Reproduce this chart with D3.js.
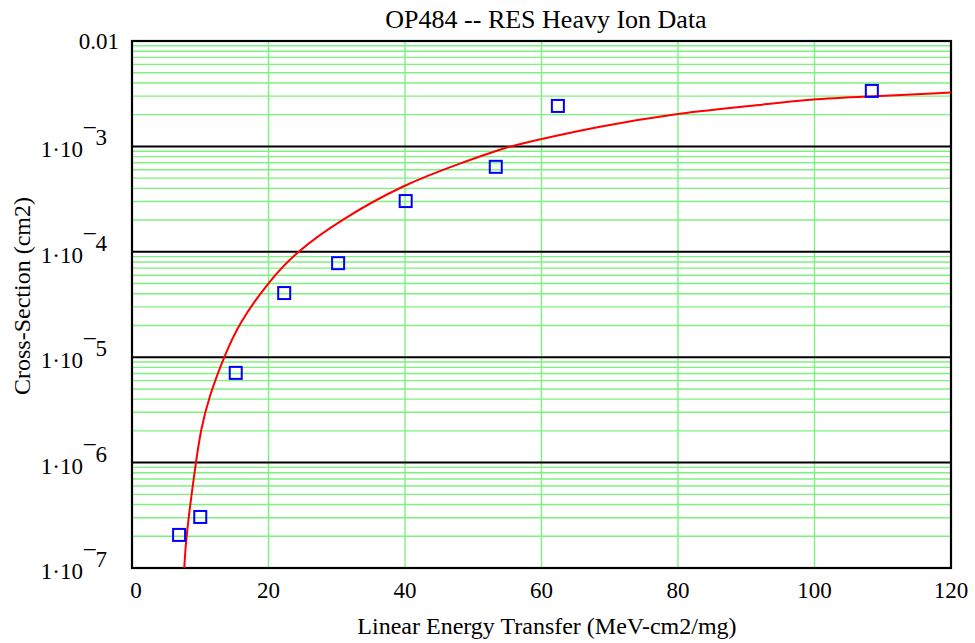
<!DOCTYPE html>
<html lang="en">
<head>
<meta charset="utf-8">
<title>OP484 -- RES Heavy Ion Data</title>
<script src="https://d3js.org/d3.v7.min.js"></script>
<style>
  body { margin: 0; background: #fff; }
  text { font-family: "Liberation Serif", "Times New Roman", serif; fill: #000; }
</style>
</head>
<body>
<script>
// measured cross-section data (LET, cm2)
var letData = [6.9, 10.0, 15.2, 22.3, 30.2, 40.1, 53.3, 62.4, 108.4];
var sigmaData = [2.06e-7, 3.05e-7, 7.1e-6, 4.06e-5, 7.8e-5, 3.03e-4, 6.4e-4, 2.42e-3, 3.36e-3];

// fitted curve, points
var fitLet = [7.66, 7.91, 9.33, 10.07, 11.28, 13.48, 15.68, 19.82, 23.88, 30.48, 39.85, 48.06, 54.9, 59.3, 68.1, 79.8, 89.6, 99.8, 108.1, 120];
var fitSigma = [1e-7, 1.98e-7, 9.8e-7, 2.04e-6, 4.2e-6, 1.01e-5, 2.1e-5, 5.0e-5, 9.8e-5, 2.0e-4, 4.37e-4, 6.9e-4, 9.9e-4, 1.15e-3, 1.54e-3, 2.06e-3, 2.38e-3, 2.82e-3, 2.97e-3, 3.24e-3];

var xTicks = [0, 20, 40, 60, 80, 100, 120];
var decades = [1e-7, 1e-6, 1e-5, 1e-4, 1e-3, 1e-2];
var decadeExp = [-7, -6, -5, -4, -3, -2];

var width = 975, height = 643;
var margin = {left: 132, right: 24, top: 41, bottom: 75};

var svg = d3.select("body").append("svg")
    .attr("width", width)
    .attr("height", height);

var x = d3.scaleLinear()
    .domain([0, 120])
    .range([margin.left, width - margin.right]);

var y = d3.scaleLog()
    .domain([1e-7, 1e-2])
    .range([height - margin.bottom, margin.top]);

// minor log grid
var minor = [];
decades.slice(0, -1).forEach(function(d) {
  for (var k = 2; k <= 9; k++) minor.push(d * k);
});

svg.append("g").selectAll("line")
    .data(minor)
  .enter().append("line")
    .attr("x1", x(0)).attr("x2", x(120))
    .attr("y1", function(d) { return y(d); })
    .attr("y2", function(d) { return y(d); })
    .attr("stroke", "#7ef27e")
    .attr("stroke-width", 1.4);

svg.append("g").selectAll("line")
    .data(xTicks.slice(1))
  .enter().append("line")
    .attr("x1", function(d) { return x(d); })
    .attr("x2", function(d) { return x(d); })
    .attr("y1", y(1e-2)).attr("y2", y(1e-7))
    .attr("stroke", "#7ef27e")
    .attr("stroke-width", 1.4);

svg.append("g").selectAll("line")
    .data(decades)
  .enter().append("line")
    .attr("x1", x(0)).attr("x2", x(120))
    .attr("y1", function(d) { return y(d); })
    .attr("y2", function(d) { return y(d); })
    .attr("stroke", "#000")
    .attr("stroke-width", 2);

// frame
svg.append("rect")
    .attr("x", x(0)).attr("y", y(1e-2))
    .attr("width", x(120) - x(0))
    .attr("height", y(1e-7) - y(1e-2))
    .attr("fill", "none")
    .attr("stroke", "#000")
    .attr("stroke-width", 2.2);

// fitted curve (smoothed through the read points)
var line = d3.line()
    .x(function(d, i) { return x(fitLet[i]); })
    .y(function(d) { return y(d); })
    .curve(d3.curveBasis);

svg.append("path")
    .datum(fitSigma)
    .attr("d", line)
    .attr("fill", "none")
    .attr("stroke", "#ff0000")
    .attr("stroke-width", 2);

// data points
var sq = 12;
svg.append("g").selectAll("rect")
    .data(sigmaData)
  .enter().append("rect")
    .attr("x", function(d, i) { return x(letData[i]) - sq / 2; })
    .attr("y", function(d) { return y(d) - sq / 2; })
    .attr("width", sq).attr("height", sq)
    .attr("fill", "none")
    .attr("stroke", "#0000ff")
    .attr("stroke-width", 2);

// x tick labels
svg.append("g").selectAll("text")
    .data(xTicks)
  .enter().append("text")
    .attr("x", function(d) { return x(d) + (d === 0 ? 4 : 0); })
    .attr("y", 598)
    .attr("text-anchor", "middle")
    .attr("font-size", 23)
    .text(function(d) { return d; });

// y tick labels
var yl = svg.append("g");
decades.forEach(function(d, i) {
  if (decadeExp[i] === -2) {
    yl.append("text")
      .attr("x", 119).attr("y", y(d) + 8)
      .attr("text-anchor", "end")
      .attr("font-size", 23)
      .text("0.01");
    return;
  }
  yl.append("text")
    .attr("x", 83).attr("y", y(d) + 11)
    .attr("text-anchor", "end")
    .attr("font-size", 23)
    .text("1\u00b710");
  yl.append("text")
    .attr("x", 84).attr("y", y(d) - 1)
    .attr("font-size", 23)
    .text("\u00af" + Math.abs(decadeExp[i]));
});

// titles
svg.append("text")
    .attr("x", 546).attr("y", 28)
    .attr("text-anchor", "middle")
    .attr("font-size", 26)
    .text("OP484 -- RES Heavy Ion Data");

svg.append("text")
    .attr("x", 547).attr("y", 634)
    .attr("text-anchor", "middle")
    .attr("font-size", 24)
    .text("Linear Energy Transfer (MeV-cm2/mg)");

svg.append("text")
    .attr("transform", "translate(30,296) rotate(-90)")
    .attr("text-anchor", "middle")
    .attr("font-size", 24)
    .text("Cross-Section (cm2)");
</script>
</body>
</html>
